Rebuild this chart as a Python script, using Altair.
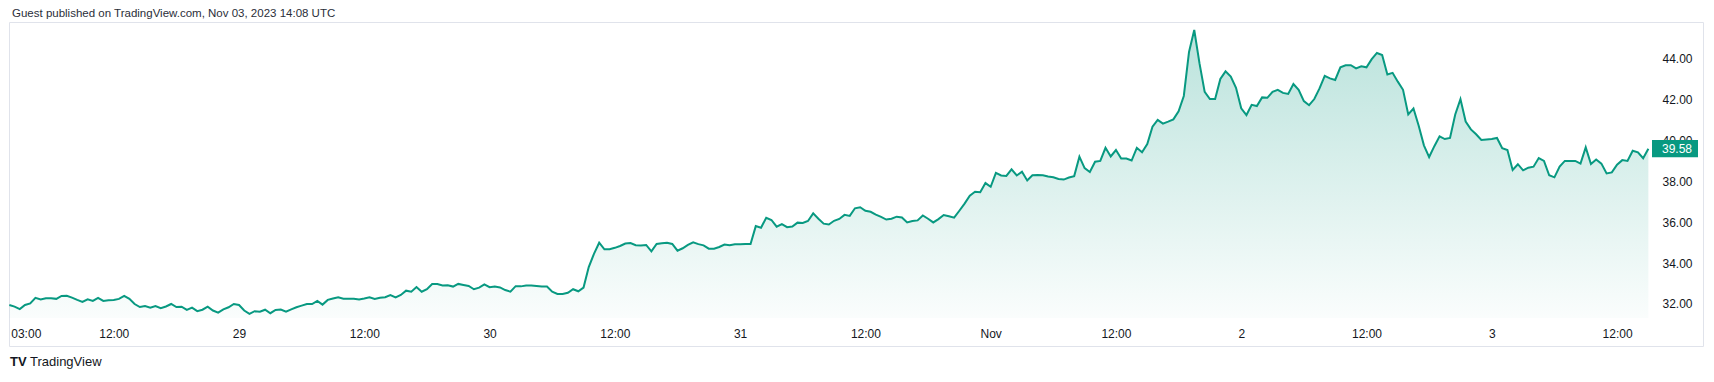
import altair as alt
import pandas as pd

FONT = "Liberation Sans"
TITLE = "Guest published on TradingView.com, Nov 03, 2023 14:08 UTC"
WATERMARK = "TradingView"
LOGO = "TV"
START = "2023-10-28T02:00:00Z"
STEP = "30min"

# half-hourly closes
oct28 = [31.95, 31.87, 31.75, 31.95, 32.03, 32.30, 32.22, 32.28, 32.28, 32.25, 32.39, 32.40,
         32.31, 32.20, 32.10, 32.23, 32.15, 32.30, 32.15, 32.18, 32.20, 32.25, 32.40, 32.25,
         32.00, 31.85, 31.90, 31.82, 31.90, 31.80, 31.88, 32.00, 31.85, 31.87, 31.71, 31.82,
         31.65, 31.72, 31.87, 31.68, 31.58, 31.74, 31.84, 32.00]
oct29 = [31.95, 31.68, 31.52, 31.65, 31.62, 31.72, 31.55, 31.71, 31.73, 31.62, 31.74, 31.84,
         31.92, 32.00, 32.00, 32.15, 31.97, 32.20, 32.27, 32.33, 32.26, 32.26, 32.26, 32.22,
         32.27, 32.33, 32.25, 32.30, 32.33, 32.43, 32.32, 32.44, 32.65, 32.60, 32.83, 32.60,
         32.72, 32.97, 32.97, 32.90, 32.91, 32.85, 32.98, 32.93, 32.88, 32.72, 32.80, 32.96]
oct30 = [32.82, 32.85, 32.81, 32.68, 32.60, 32.87, 32.86, 32.90, 32.90, 32.88, 32.85, 32.85,
         32.60, 32.49, 32.49, 32.55, 32.72, 32.62, 32.80, 33.80, 34.45, 34.99, 34.67, 34.67,
         34.74, 34.83, 34.95, 34.97, 34.87, 34.86, 34.88, 34.57, 34.93, 34.96, 34.99, 34.93,
         34.60, 34.72, 34.88, 35.01, 34.92, 34.86, 34.70, 34.70, 34.78, 34.90, 34.87, 34.92]
oct31 = [34.91, 34.93, 34.93, 35.80, 35.72, 36.21, 36.10, 35.77, 35.90, 35.75, 35.78, 35.97,
         35.95, 36.05, 36.42, 36.16, 35.92, 35.88, 36.06, 36.15, 36.35, 36.30, 36.67, 36.72,
         36.55, 36.50, 36.36, 36.25, 36.12, 36.16, 36.26, 36.22, 35.98, 36.05, 36.08, 36.32,
         36.16, 35.98, 36.14, 36.34, 36.28, 36.21, 36.55, 36.90, 37.29, 37.48, 37.45, 37.90]
nov01 = [37.72, 38.40, 38.27, 38.25, 38.57, 38.27, 38.45, 38.03, 38.28, 38.30, 38.28, 38.22,
         38.18, 38.10, 38.07, 38.17, 38.24, 39.19, 38.63, 38.44, 38.94, 38.98, 39.62, 39.20,
         39.51, 39.10, 39.10, 39.00, 39.62, 39.40, 39.80, 40.65, 40.98, 40.80, 40.90, 41.01,
         41.40, 42.15, 44.30, 45.37, 43.75, 42.35, 42.00, 42.00, 42.98, 43.35, 43.10, 42.55]
nov02 = [41.55, 41.22, 41.72, 41.66, 42.08, 42.06, 42.35, 42.45, 42.30, 42.25, 42.73, 42.45,
         41.90, 41.70, 42.00, 42.52, 43.13, 43.01, 42.93, 43.55, 43.65, 43.65, 43.50, 43.60,
         43.55, 43.95, 44.25, 44.15, 43.20, 43.28, 42.85, 42.45, 41.25, 41.54, 40.70, 39.74,
         39.17, 39.70, 40.18, 40.05, 40.10, 41.25, 42.00, 40.90, 40.52, 40.28, 40.00, 40.03]
nov03 = [40.05, 40.10, 39.60, 39.51, 38.54, 38.82, 38.52, 38.65, 38.70, 39.12, 38.98, 38.28,
         38.18, 38.70, 38.98, 38.98, 38.98, 38.85, 39.64, 38.83, 39.05, 38.85, 38.37, 38.42,
         38.80, 39.02, 38.98, 39.48, 39.40, 39.11, 39.58]

tick_times = ["2023-10-28T03:00Z", "2023-10-28T12:00Z", "2023-10-29T00:00Z", "2023-10-29T12:00Z",
              "2023-10-30T00:00Z", "2023-10-30T12:00Z", "2023-10-31T00:00Z", "2023-10-31T12:00Z",
              "2023-11-01T00:00Z", "2023-11-01T12:00Z", "2023-11-02T00:00Z", "2023-11-02T12:00Z",
              "2023-11-03T00:00Z", "2023-11-03T12:00Z"]
price_ticks = [32, 34, 36, 38, 40, 42, 44]
x_domain_str = ["2023-10-28T01:58Z", "2023-11-03T20:14Z"]
y_domain = [29.95, 45.76]
BASELINE = 31.32
BOX_HALF = 0.42

GREEN = "#089981"
TEXT = "#131722"


def ms(s):
    return int(pd.Timestamp(s).value // 10**6)


prices = oct28 + oct29 + oct30 + oct31 + nov01 + nov02 + nov03
times = pd.date_range(START, periods=len(prices), freq=STEP)
df = pd.DataFrame({"t": times.strftime("%Y-%m-%dT%H:%M:%SZ"), "v": prices})
last = df.tail(1)

x_axis = alt.Axis(
    orient="bottom", offset=-20, values=[ms(s) for s in tick_times],
    labelExpr="utchours(datum.value) == 0 ? (utcdate(datum.value) == 1 ? utcFormat(datum.value, '%b') : '' + utcdate(datum.value)) : utcFormat(datum.value, '%H:%M')",
    ticks=False, tickSize=0, domain=False, grid=False, labelPadding=2,
    labelBaseline="top", labelFont=FONT, labelFontSize=12, labelColor=TEXT,
    labelOverlap=False, labelFlush=False,
    labelOffset={"condition": {"test": "datum.index == 0", "value": 6}, "value": 0},
    title="",
)
y_axis = alt.Axis(
    orient="right", offset=-48, values=price_ticks, format=".2f",
    ticks=False, tickSize=0, domain=False, grid=False, labelPadding=7,
    labelFont=FONT, labelFontSize=12, labelColor=TEXT, labelOverlap=False,
    title="",
)

X = alt.X("t:T", scale=alt.Scale(type="utc", domain=[ms(s) for s in x_domain_str]), axis=x_axis)
Y = alt.Y("v:Q", scale=alt.Scale(domain=y_domain, nice=False, zero=False), axis=y_axis)

base = alt.Chart(df)
area = base.mark_area(
    opacity=1,
    color=alt.Gradient(
        gradient="linear",
        stops=[alt.GradientStop(color="rgba(8,153,129,0.28)", offset=0),
               alt.GradientStop(color="rgba(8,153,129,0.02)", offset=1)],
        x1=0, x2=0, y1=0, y2=1,
    ),
).encode(x=X, y=Y, y2=alt.datum(BASELINE))
line = base.mark_line(color=GREEN, strokeWidth=2).encode(x="t:T", y="v:Q")

box = alt.Chart(last).transform_calculate(
    top=f"datum.v + {BOX_HALF}", bot=f"datum.v - {BOX_HALF}"
).mark_rect(color=GREEN).encode(
    x=alt.value(1643), x2=alt.value(1689), y="top:Q", y2="bot:Q"
)
box_text = alt.Chart(last).mark_text(
    align="left", baseline="middle", color="white", font=FONT, fontSize=12
).encode(x=alt.value(1653), y="v:Q", text=alt.Text("v:Q", format=".2f"))

title = alt.Chart(pd.DataFrame({"s": [TITLE]})).mark_text(
    align="left", baseline="alphabetic", font=FONT, fontSize=11.5, color="#2a2e39"
).encode(x=alt.value(3), y=alt.value(-5), text="s:N")
wm = alt.Chart(pd.DataFrame({"s": [WATERMARK]})).mark_text(
    align="left", baseline="alphabetic", font=FONT, fontSize=13, color=TEXT
).encode(x=alt.value(21), y=alt.value(343.5), text="s:N")
logo = alt.Chart(pd.DataFrame({"s": [LOGO]})).mark_text(
    align="left", baseline="alphabetic", font=FONT, fontSize=13, fontWeight=900, color=TEXT
).encode(x=alt.value(1), y=alt.value(343.5), text="s:N")

chart = alt.layer(area, line, box, box_text, title, wm, logo).properties(
    width=1694, height=324,
    autosize=alt.AutoSizeParams(type="none"),
    padding={"left": 1, "top": 14, "right": 3, "bottom": 30},
    background="white",
).configure_view(stroke="#E0E3EB", strokeWidth=1)

chart.save("out.html", embed_options={"renderer": "svg", "actions": False})
